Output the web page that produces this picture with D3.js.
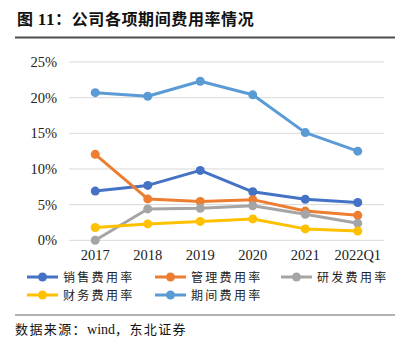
<!DOCTYPE html>
<html>
<head>
<meta charset="utf-8">
<script src="https://cdn.jsdelivr.net/npm/d3@7"></script>
<style>
  body { margin: 0; background: #fff; }
  svg { display: block; }
</style>
</head>
<body>
<div id="chart"></div>
<script>
// data
const years = ["2017", "2018", "2019", "2020", "2021", "2022Q1"];
const sales   = [6.9, 7.7, 9.8, 6.8, 5.75, 5.3];   // 销售费用率
const admin   = [12.05, 5.8, 5.45, 5.7, 4.1, 3.5]; // 管理费用率
const rnd     = [0.0, 4.4, 4.5, 4.85, 3.65, 2.4];  // 研发费用率
const finance = [1.8, 2.3, 2.65, 3.0, 1.6, 1.3];   // 财务费用率
const period  = [20.7, 20.2, 22.3, 20.4, 15.1, 12.5]; // 期间费用率
const yTicks = [0, 5, 10, 15, 20, 25];

const series = [
  { name: "销售费用率", values: sales,   color: "#4472C4" },
  { name: "管理费用率", values: admin,   color: "#ED7D31" },
  { name: "研发费用率", values: rnd,     color: "#A5A5A5" },
  { name: "财务费用率", values: finance, color: "#FFC000" },
  { name: "期间费用率", values: period,  color: "#5B9BD5" }
];

const W = 409, H = 351;
const cjk = "'Noto Sans CJK SC', sans-serif";
const serif = "'Liberation Serif', 'Times New Roman', serif";

const svg = d3.select("#chart").append("svg")
  .attr("width", W).attr("height", H);

// title + rules
const title = svg.append("text")
  .attr("x", 17).attr("y", 25)
  .style("font-family", cjk).style("font-weight", "bold")
  .style("font-size", "16px").style("letter-spacing", "0.6px").attr("fill", "#111");
title.append("tspan").text("图 ");
title.append("tspan").style("font-family", serif).style("font-size", "17px").text("11");
title.append("tspan").text("：公司各项期间费用率情况");
svg.append("line").attr("x1", 15).attr("x2", 395).attr("y1", 37.5).attr("y2", 37.5)
  .attr("stroke", "#4d4d4d").attr("stroke-width", 2);

svg.append("line").attr("x1", 15).attr("x2", 395).attr("y1", 315).attr("y2", 315)
  .attr("stroke", "#666").attr("stroke-width", 1.2);
const src = svg.append("text")
  .attr("x", 15).attr("y", 334)
  .style("font-family", cjk).style("font-size", "13px").style("letter-spacing", "1.4px").attr("fill", "#111");
src.append("tspan").text("数据来源：");
src.append("tspan").style("font-family", serif).style("font-size", "14px").style("letter-spacing", "0px").text("wind");
src.append("tspan").text("，东北证券");

// plot
const x = d3.scaleBand().domain(years).range([69, 384]);
const y = d3.scaleLinear().domain([0, 25]).range([240.3, 62]);

const grid = svg.append("g");
grid.selectAll("line").data(yTicks).join("line")
  .attr("x1", 69).attr("x2", 384)
  .attr("y1", d => y(d)).attr("y2", d => y(d))
  .attr("stroke", "#d9d9d9").attr("stroke-width", 1);

const yAxis = svg.append("g").attr("transform", "translate(69,0)")
  .call(d3.axisLeft(y).tickValues(yTicks).tickFormat(d => d + "%").tickSize(0).tickPadding(12));
yAxis.select(".domain").remove();
yAxis.selectAll("text").style("font-family", serif).style("font-size", "14.5px").attr("fill", "#222");

const xAxis = svg.append("g").attr("transform", "translate(0,248)")
  .call(d3.axisBottom(x).tickSize(0).tickPadding(2));
xAxis.select(".domain").remove();
xAxis.selectAll("text").style("font-family", serif).style("font-size", "14.5px").attr("fill", "#222");

const cx = d => x(d) + x.bandwidth() / 2;
const line = d3.line().x((d, i) => cx(years[i])).y(d => y(d));

series.forEach(s => {
  const g = svg.append("g");
  g.append("path").datum(s.values)
    .attr("d", line).attr("fill", "none")
    .attr("stroke", s.color).attr("stroke-width", 3).attr("stroke-linejoin", "round");
  g.selectAll("circle").data(s.values).join("circle")
    .attr("cx", (d, i) => cx(years[i])).attr("cy", d => y(d))
    .attr("r", 4.5).attr("fill", s.color);
});

// legend
const legendPos = [[27, 277], [155, 277], [281, 277], [27, 295], [155, 295]];
series.forEach((s, i) => {
  const [lx, ly] = legendPos[i];
  const g = svg.append("g").attr("transform", `translate(${lx},${ly})`);
  g.append("line").attr("x1", 0).attr("x2", 31).attr("stroke", s.color).attr("stroke-width", 3);
  g.append("circle").attr("cx", 15.5).attr("r", 4.5).attr("fill", s.color);
  g.append("text").attr("x", 36).attr("y", 4.5)
    .style("font-family", cjk).style("font-size", "12px")
    .style("letter-spacing", "2.3px").attr("fill", "#222")
    .text(s.name);
});
</script>
</body>
</html>
